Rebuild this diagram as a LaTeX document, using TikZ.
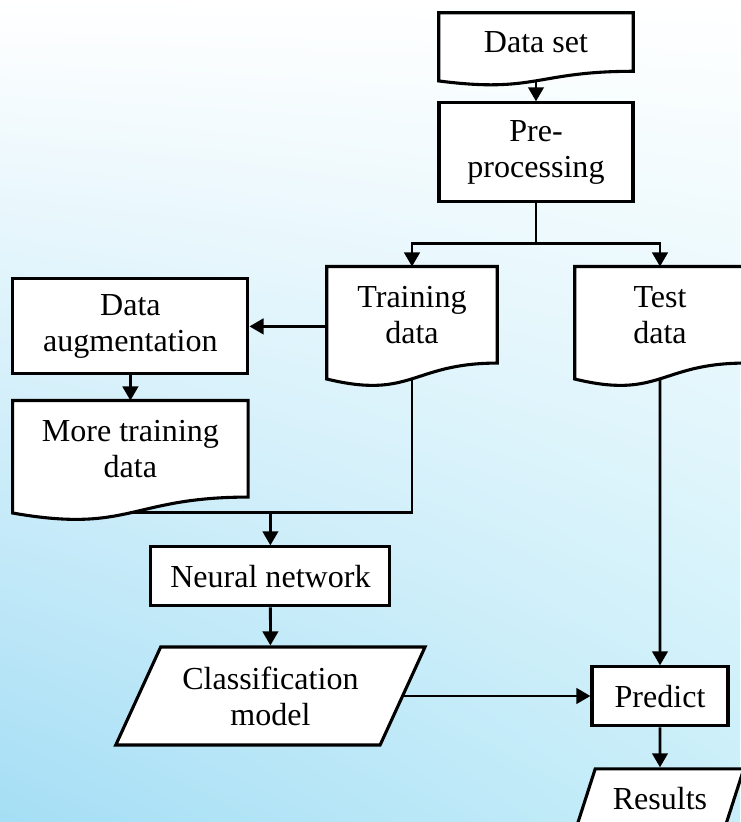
\documentclass[tikz,border=0pt]{standalone}
\usepackage{fontspec}
\setmainfont{Liberation Serif}
\usetikzlibrary{arrows.meta,positioning,shapes.geometric,backgrounds,calc,shadings}
\definecolor{bgblue}{RGB}{165,222,245}
\definecolor{bglight}{RGB}{200,238,249}

% outline of a document box, the wavy foot is named <node>-foot
\newcommand{\docwave}[1]{%
  \draw[boxline, fill=white] let \p1=(#1.north), \p2=(#1.south), \n1={\y1-\y2} in
    (#1.north west) -- (#1.north east) -- (#1.south east)
    .. controls (#1.south) and ($(#1.south)+(0,-0.38*\n1)$) .. coordinate[pos=0.5] (#1-foot)
    ($(#1.south west)+(0,-0.165*\n1)$) -- cycle;}

\begin{document}
\begin{tikzpicture}[
    auto,
    node distance=2.76cm,
    >={Triangle[length=10pt,width=11pt]},
    font=\fontsize{22.8}{25.6}\selectfont,
    boxline/.style={draw=black, line width=2.2pt},
    process/.style={
        rectangle,
        boxline,
        fill=white,
        align=center,
        inner sep=0pt
    },
    docnode/.style={
        rectangle,
        align=center,
        inner sep=0pt,
        minimum width=4.25cm,
        minimum height=2.4cm
    },
    io/.style={
        trapezium,
        trapezium left angle=58.5,
        trapezium right angle=121.5,
        trapezium stretches=true,
        boxline,
        fill=white,
        align=center,
        inner sep=0pt
    },
    line/.style={line width=2pt}
  ]
  \useasboundingbox (-13.4,1.05) rectangle (5.1,-19.5);

  % the blocks
  \node [docnode, minimum width=4.85cm, minimum height=1.45cm] (dataset) {Data set};

  \node [process, below of=dataset, minimum width=4.85cm, minimum height=2.475cm] (prep) {Pre-\\processing};

  \node [docnode, below of=prep, xshift=-3.1cm, yshift=-1.3cm] (train) {Training\\data};

  \node [docnode, below of=prep, xshift=3.1cm, yshift=-1.3cm] (test) {Test\\data};

  \node [process, left of=train, xshift=-4.28cm, yshift=-0.29cm,
         minimum width=5.875cm, minimum height=2.375cm] (aug) {Data\\augmentation};

  \node [docnode, below of=aug, yshift=-0.3cm, minimum width=5.875cm] (more) {More training\\data};

  \node [process, below of=more, xshift=3.5cm, yshift=-0.43cm,
         minimum width=5.975cm, minimum height=1.475cm] (nn) {Neural network};

  \node [io, below of=nn, yshift=-0.23cm, minimum width=7.75cm, minimum height=2.45cm] (cls) {Classification\\model};

  \node [process, below of=test, yshift=-6.78cm, minimum width=3.4cm, minimum height=1.475cm] (pred) {Predict};

  \node [io, below of=pred, yshift=0.21cm, minimum width=4.2cm, minimum height=1.475cm] (res) {Results};

  % backdrop and document outlines
  \begin{scope}[on background layer]
    \shade [upper left=white, upper right=white, lower left=bgblue, lower right=bglight] (-13.4,1.05) rectangle (5.1,-19.5);
    \docwave{dataset}
    \docwave{train}
    \docwave{test}
    \docwave{more}
  \end{scope}

  % the connectors
  \draw [line,->] (dataset-foot) -- (prep);
  \draw [line] (prep.south) -- ++(0,-1cm) coordinate (split);
  \draw [line,->] (split) -| (train);
  \draw [line,->] (split) -| (test);
  \draw [line,->] (train.west |- aug) -- (aug);
  \draw [line,->] (aug) -- (more);
  \draw [line] (train-foot) |- (more-foot);
  \draw [line,->] (more-foot -| nn) -- (nn);
  \draw [line,->] (nn) -- (cls);
  \draw [line,->] (cls.east) -- (cls.east -| pred.west);
  \draw [line,->] (test-foot) -- (pred);
  \draw [line,->] (pred) -- (res);
\end{tikzpicture}
\end{document}
